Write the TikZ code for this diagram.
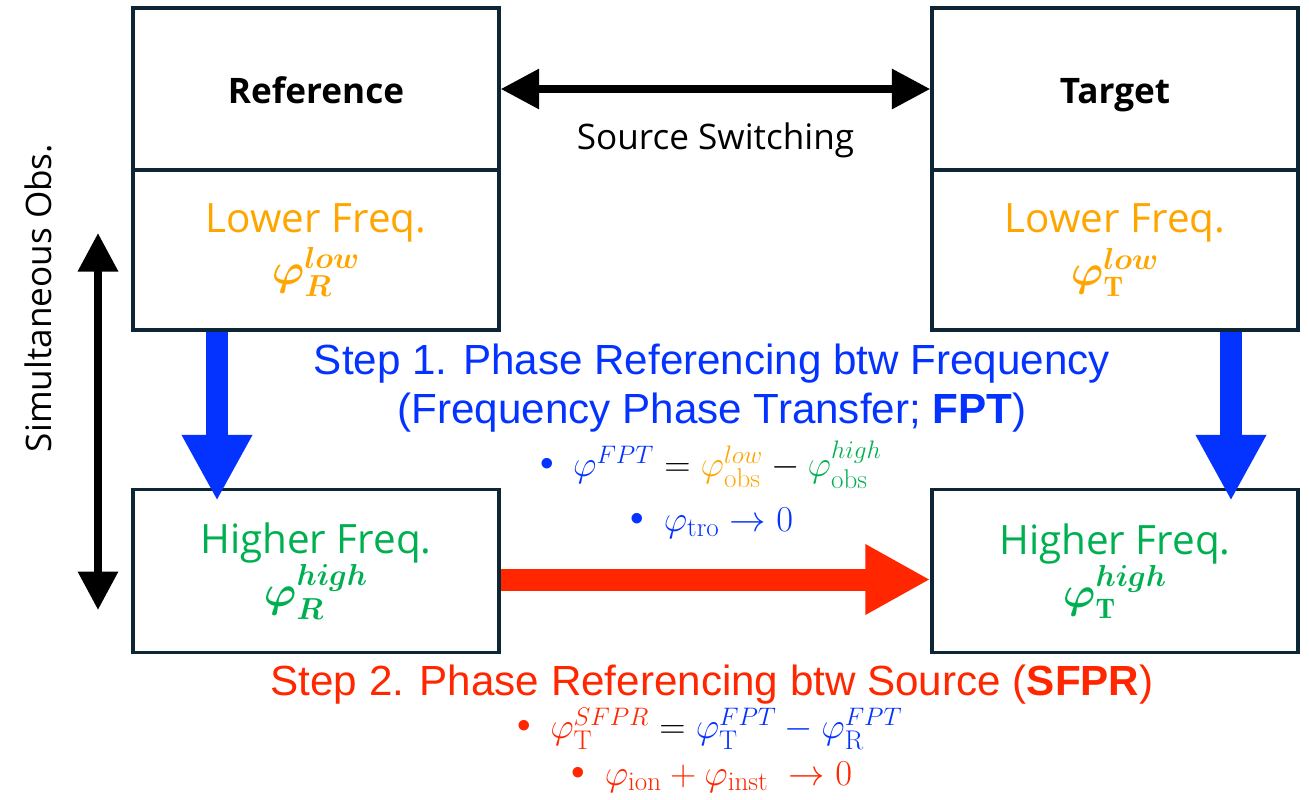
\documentclass[tikz,border=0pt]{standalone}
\usepackage{fontspec}
\usepackage{amsmath,bm}
\usetikzlibrary{arrows.meta, positioning, calc}
\newfontfamily\malgfont{Open Sans}
\newfontfamily\arialfont{Liberation Sans}
\definecolor{boxnavy}{HTML}{0D2636}
\definecolor{lowamber}{HTML}{FFA500}
\definecolor{highgreen}{HTML}{00B050}
\definecolor{fptblue}{HTML}{0433FF}
\definecolor{sfprred}{HTML}{FF2600}

\begin{document}
\begin{tikzpicture}[x=0.02cm, y=-0.02cm,
  namebox/.style={draw=boxnavy, line width=0.07cm, minimum width=7.32cm, minimum height=3.24cm, text height=21pt, text depth=5pt, font=\malgfont\fontsize{20}{24}\selectfont\bfseries},
  freqbox/.style={draw=boxnavy, line width=0.07cm, minimum width=7.32cm, minimum height=3.2cm, align=center, font=\malgfont\fontsize{23}{30}\selectfont},
  steptext/.style={align=center, font=\arialfont\fontsize{24}{28}\selectfont},
  eqtext/.style={inner sep=0pt, font=\fontsize{22}{24}\selectfont},
  fatblue/.style={fptblue, line width=0.44cm, -{Triangle[length=1.32cm, width=1.32cm]}},
  fatred/.style={sfprred, line width=0.44cm, -{Triangle[length=1.3cm, width=1.32cm]}},
  thinarrow/.style={black, line width=0.16cm, {Triangle[length=0.77cm, width=0.77cm]}-{Triangle[length=0.77cm, width=0.77cm]}}
]
  \useasboundingbox (0,0) rectangle (1309,799);

  % Source boxes
  \node[namebox] (refname) at (316,89) {Reference};
  \node[namebox] (tgtname) at (1115,89) {Target};
  \node[freqbox, text=lowamber] (reflow) at (316,250) {Lower Freq.\\ $\bm{\varphi}_{\bm{R}}^{\bm{low}}$};
  \node[freqbox, text=lowamber] (tgtlow) at (1115,250) {Lower Freq.\\ $\bm{\varphi}_{\mathbf{T}}^{\bm{low}}$};
  \node[freqbox, text=highgreen, minimum height=3.26cm] (refhigh) at (316,571) {Higher Freq.\\ $\bm{\varphi}_{\bm{R}}^{\bm{high}}$};
  \node[freqbox, text=highgreen, minimum height=3.26cm] (tgthigh) at (1115,571) {Higher Freq.\\ $\bm{\varphi}_{\mathbf{T}}^{\bm{high}}$};

  % Switching and simultaneous observation
  \draw[thinarrow] (refname.east) -- node[midway, yshift=-1.02cm, font=\malgfont\fontsize{20}{24}\selectfont] (switchlbl) {Source Switching} (tgtname.west);
  \coordinate (simtop) at (98,233);
  \coordinate (simbot) at (98,610);
  \draw[thinarrow] (simtop) -- (simbot);
  \node[rotate=90, font=\malgfont\fontsize{20}{24}\selectfont] (simlbl) at (38,298) {Simultaneous Obs.};

  % Step 1: FPT
  \draw[fatblue] ([xshift=-1.98cm]reflow.south) -- ([xshift=-1.98cm, yshift=-0.26cm]refhigh.north);
  \draw[fatblue] ([xshift=2.32cm]tgtlow.south) -- ([xshift=2.32cm, yshift=-0.26cm]tgthigh.north);
  \node[steptext, text=fptblue] (step1) at (712,388) {Step 1. Phase Referencing btw Frequency\\ (Frequency Phase Transfer; \textbf{FPT})};
  \node[eqtext, text=fptblue] (fpteq) at (711,465) {{\arialfont\textbullet}\hspace{0.5em}$\varphi^{FPT} \mathrel{\color{black}=} {\color{lowamber}\varphi^{low}_{\mathrm{obs}}} \mathbin{\color{black}-} {\color{highgreen}\varphi^{high}_{\mathrm{obs}}}$};
  \node[eqtext, text=fptblue] (troeq) at (712,523) {{\arialfont\textbullet}\hspace{0.5em}$\varphi_{\mathrm{tro}} \rightarrow 0$};

  % Step 2: SFPR
  \draw[fatred] ([yshift=-0.17cm]refhigh.east) -- ([yshift=-0.17cm]tgthigh.west);
  \node[steptext, text=sfprred] (step2) at (712,685) {Step 2. Phase Referencing btw Source (\textbf{SFPR})};
  \node[eqtext, text=sfprred] (sfpreq) at (710,729) {{\arialfont\textbullet}\hspace{0.5em}$\varphi_{\mathrm{T}}^{SFPR} \mathrel{\color{black}=} {\color{fptblue}\varphi_{\mathrm{T}}^{FPT} - \varphi_{\mathrm{R}}^{FPT}}$};
  \node[eqtext, text=sfprred] (ioneq) at (712,777) {{\arialfont\textbullet}\hspace{0.5em}$\varphi_{\mathrm{ion}} + \varphi_{\mathrm{inst}} \;\rightarrow 0$};
\end{tikzpicture}
\end{document}
